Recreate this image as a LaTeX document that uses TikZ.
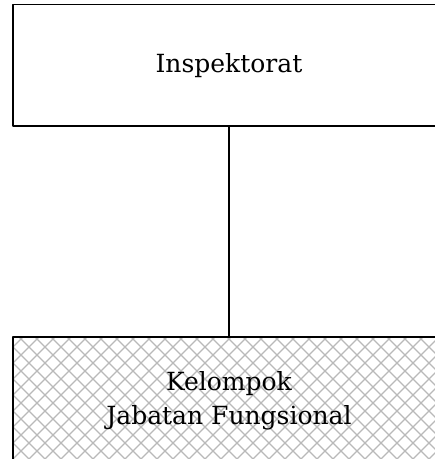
\documentclass[tikz,border=0pt]{standalone}
\usepackage{fontspec}
\setmainfont{DejaVu Serif}
\usetikzlibrary{positioning}
\tikzset{
  unitfont/.style={font=\fontsize{25}{34}\selectfont},
  unitbox/.style={draw,line width=1.4pt,fill=white,minimum width=432pt,
    align=center,unitfont,inner sep=0pt},
  hatched/.style={path picture={
    \foreach \k in {-40,...,40}{
      \draw[gray!55,line width=1.3pt] (\k*16,-100) -- ++(250,250);
      \draw[gray!55,line width=1.3pt] (\k*16,-100) -- ++(-250,250);}}}
}
\begin{document}
\begin{tikzpicture}[x=1pt,y=1pt,line join=round]
    \useasboundingbox (0,0) rectangle (435,459);
    \def\xm{229}
    \node[unitbox,minimum height=121.5pt] (insp) at (\xm,393.75) {Inspektorat};
    \node[unitbox,hatched,minimum height=124pt] (jf) at (\xm,60) {};
    \node[unitfont,align=center] (jftext) at (\xm,58)
        {Kelompok\\Jabatan Fungsional};
    \draw[line width=1.4pt] (insp) -- (jf);
\end{tikzpicture}
\end{document}
